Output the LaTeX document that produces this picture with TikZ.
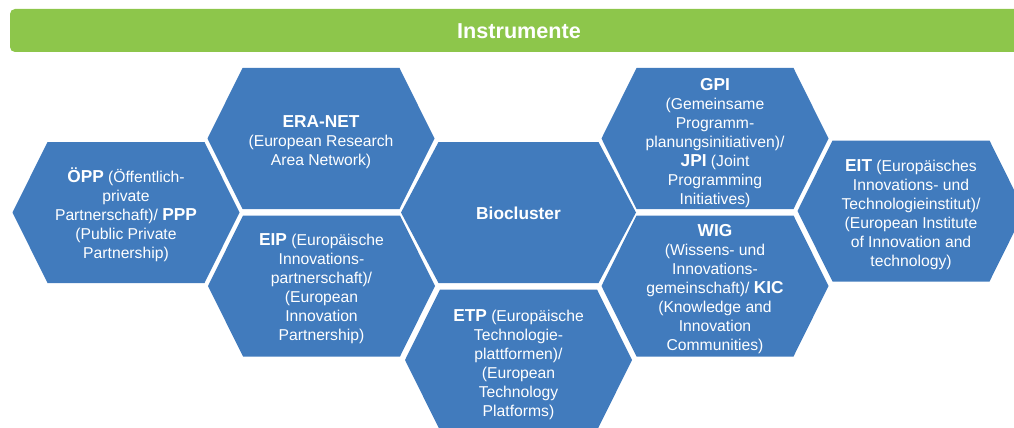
\documentclass[tikz,border=0pt]{standalone}
\usepackage{fontspec}
\setmainfont{Liberation Sans}
\usetikzlibrary{backgrounds}

\definecolor{hexblue}{HTML}{417BBD}
\definecolor{bargreen}{HTML}{8DC64B}
\newcommand{\kurz}[1]{{\fontsize{17.3}{19}\selectfont\bfseries #1}}

\tikzset{
  hexlabel/.style={text=white, align=center, inner sep=0pt,
    font=\fontsize{15.7}{19}\selectfont},
  hexfill/.style={fill=hexblue},
}

\begin{document}
\begin{tikzpicture}[x=1pt,y=-1pt]
\useasboundingbox (0,0) rectangle (1014,428);
\clip (0,0) rectangle (1014,428);
\fill[bargreen, rounded corners=5pt] (10,9) rectangle (1040,52);
\node (title) at (519,31) [text=white, font=\fontsize{21.6}{26}\selectfont\bfseries] {Instrumente};
\node (oepp) at (126,214.5) [hexlabel] {\kurz{ÖPP} (Öffentlich-\\private\\Partnerschaft)/ \kurz{PPP}\\(Public Private\\Partnership)};
\node (eranet) at (321,142.5) [hexlabel] {\kurz{ERA-NET}\\(European Research\\Area Network)};
\node (eip) at (321.5,289) [hexlabel] {\kurz{EIP} (Europäische\\Innovations-\\partnerschaft)/\\(European\\Innovation\\Partnership)};
\node (bio) at (518.5,213.5) [hexlabel] {\kurz{Biocluster}};
\node (etp) at (518.5,364.5) [hexlabel] {\kurz{ETP} (Europäische\\Technologie-\\plattformen)/\\(European\\Technology\\Platforms)};
\node (gpi) at (715,143.5) [hexlabel] {\kurz{GPI}\\(Gemeinsame\\Programm-\\planungsinitiativen)/\\\kurz{JPI} (Joint\\Programming\\Initiatives)};
\node (wig) at (715,289) [hexlabel] {\kurz{WIG}\\(Wissens- und\\Innovations-\\gemeinschaft)/ \kurz{KIC}\\(Knowledge and\\Innovation\\Communities)};
\node (eit) at (911,215) [hexlabel] {\kurz{EIT} (Europäisches\\Innovations- und\\Technologieinstitut)/\\(European Institute\\of Innovation and\\technology)};
% hexagons behind the labels: name / text shift / half width / slant
\begin{scope}[on background layer]
\clip (0,0) rectangle (1014,428);
\foreach \n/\dy/\hw/\sl in {oepp/2/113.5/35, eranet/4/113.5/35, eip/3/113.5/35,
    bio/1/117.5/37.5, etp/4.5/113.5/35, gpi/5/113.5/35, wig/3/113.5/35, eit/4/113.5/35}
  \fill[hexfill] (\n.center) ++(-\hw,-\dy) -- ++(\sl,-70.5) -- ++({2*(\hw-\sl)},0)
    -- ++(\sl,70.5) -- ++(-\sl,70.5) -- ++({-2*(\hw-\sl)},0) -- cycle;
\end{scope}
\end{tikzpicture}
\end{document}
